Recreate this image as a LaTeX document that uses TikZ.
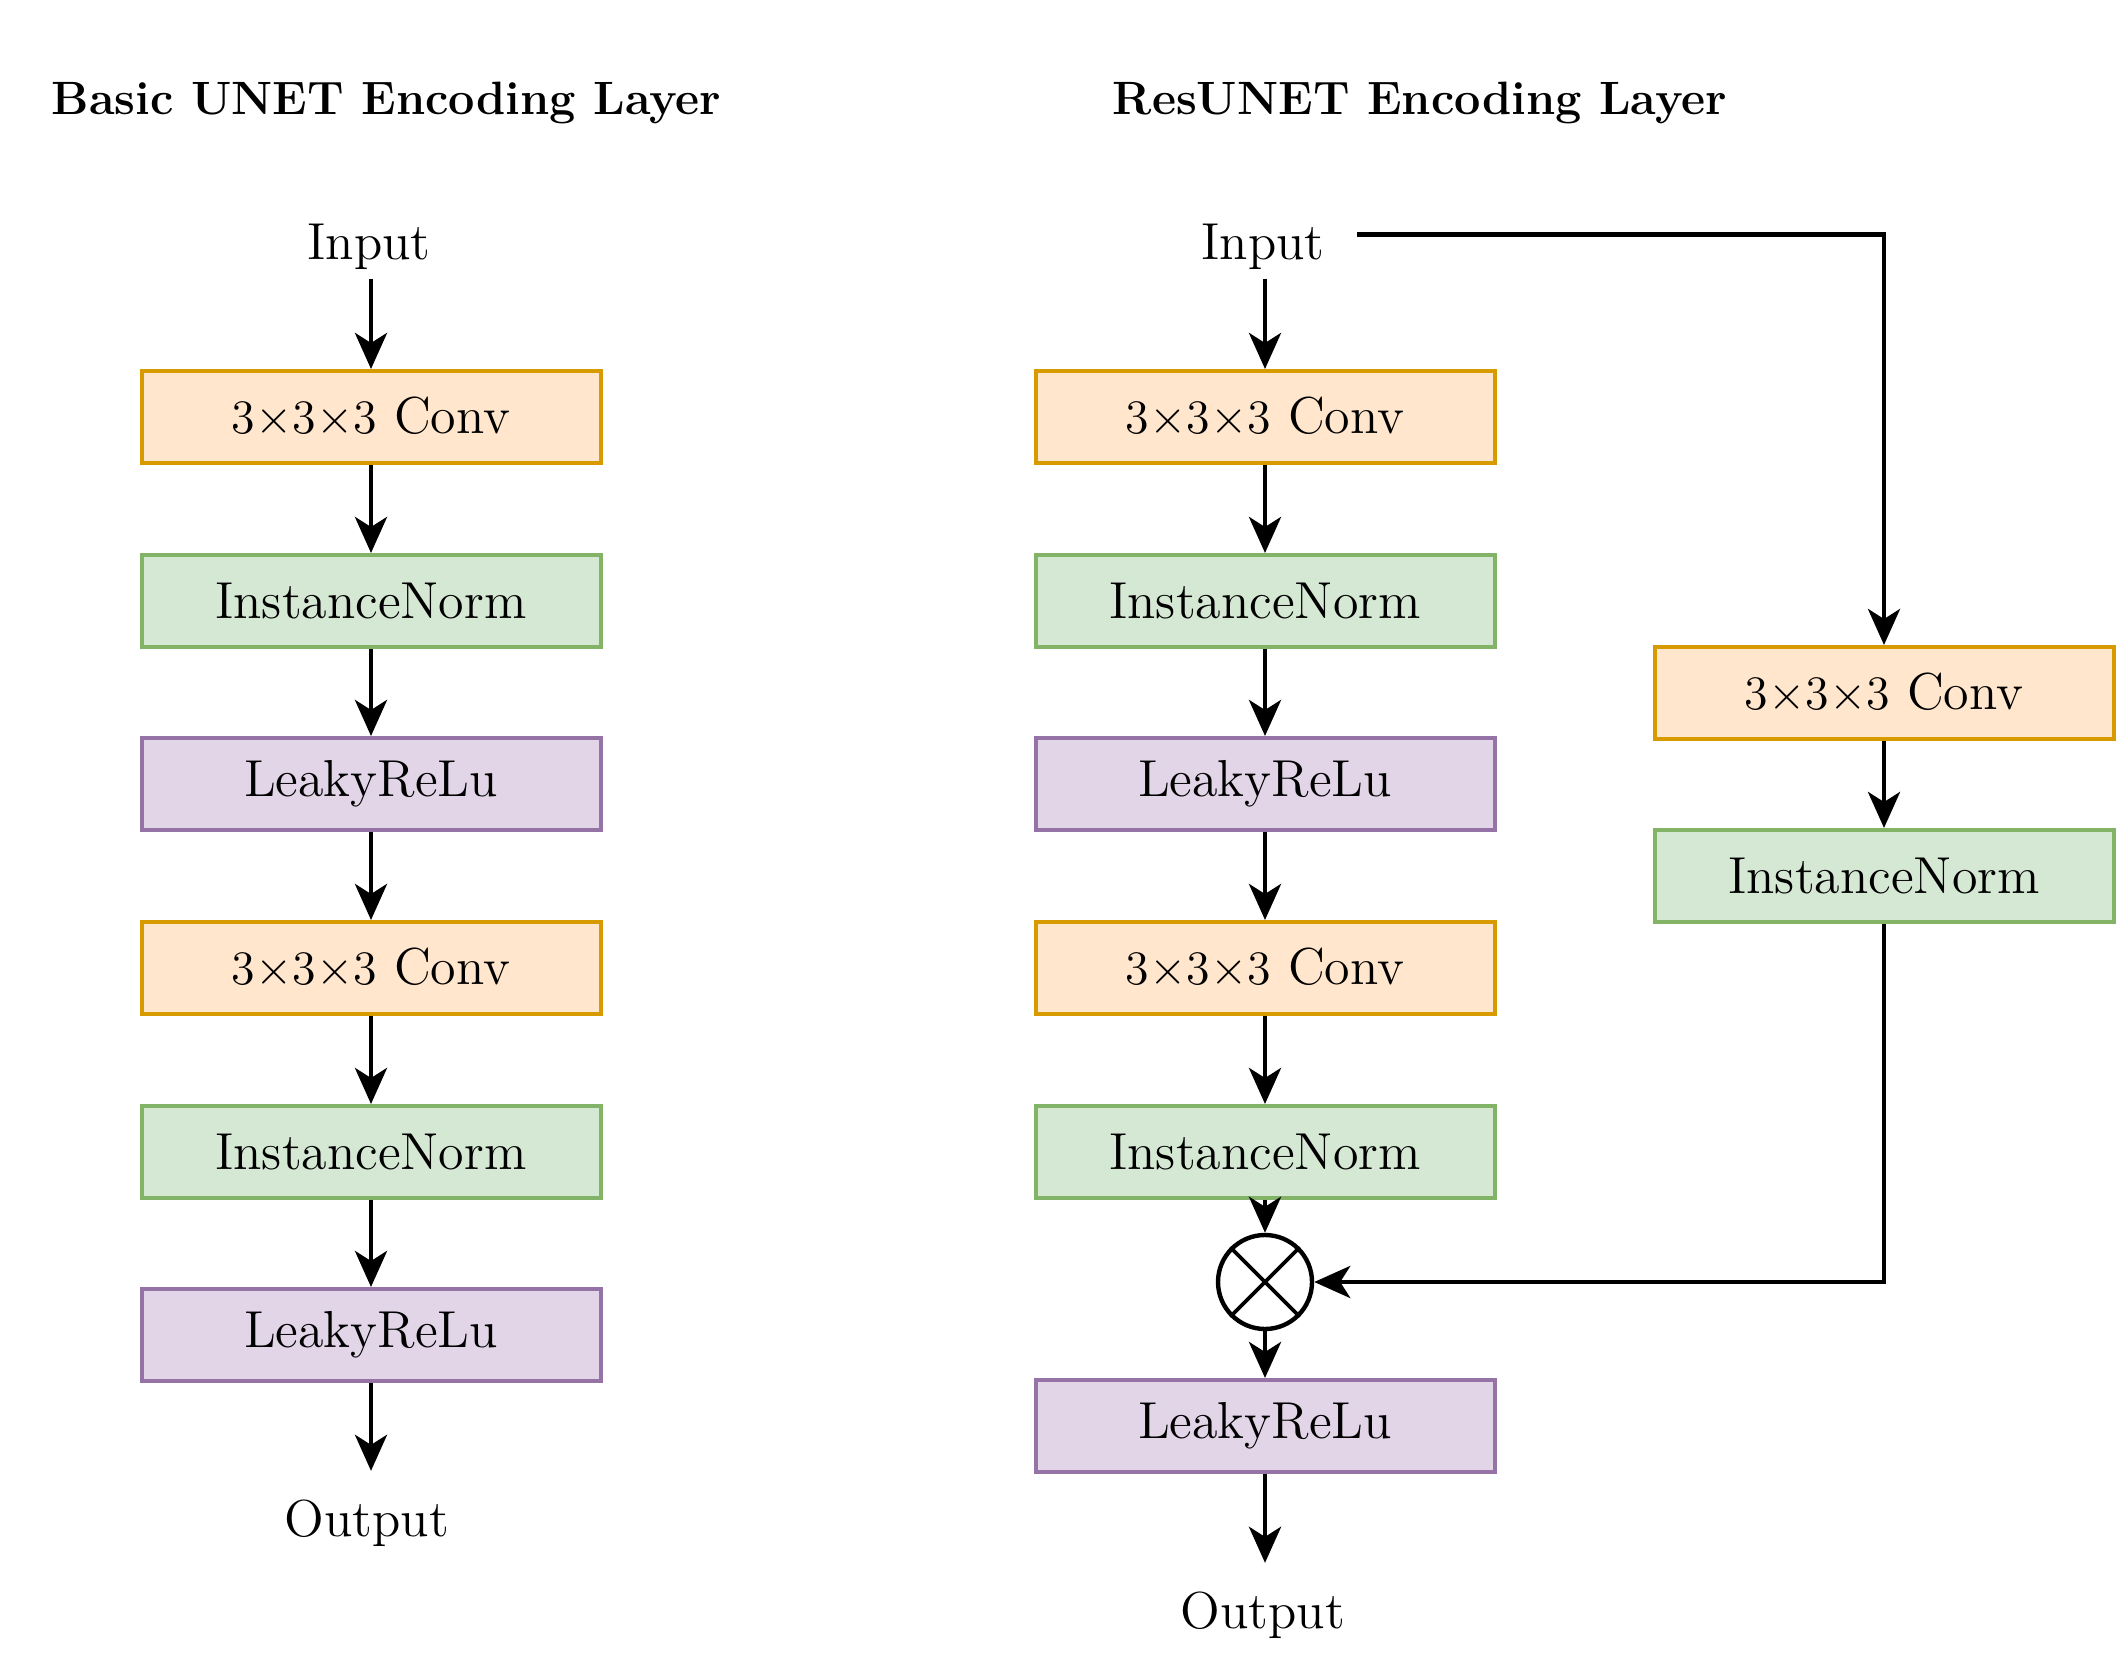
\documentclass[tikz,border=0pt]{standalone}
\usetikzlibrary{arrows.meta}
\definecolor{convF}{HTML}{FFE6CC}\definecolor{convD}{HTML}{D79B00}
\definecolor{normF}{HTML}{D5E8D4}\definecolor{normD}{HTML}{82B366}
\definecolor{reluF}{HTML}{E1D5E7}\definecolor{reluD}{HTML}{9673A6}
\begin{document}
\begin{tikzpicture}[x=0.25pt,y=-0.25pt,
  box/.style={draw, line width=1pt, minimum width=114.75pt, minimum height=23pt, inner sep=0pt, font=\fontsize{13}{15}\selectfont},
  conv/.style={box, fill=convF, draw=convD},
  norm/.style={box, fill=normF, draw=normD},
  relu/.style={box, fill=reluF, draw=reluD},
  lbl/.style={font=\fontsize{13}{15}\selectfont, inner sep=2pt},
  arr/.style={line width=1.2pt, -{Stealth[length=9pt,width=8pt,inset=2.5pt]}},
  ttl/.style={font=\fontsize{11.7}{14}\selectfont\bfseries, anchor=base west, inner sep=0pt}]
\useasboundingbox (0,0) rectangle (2117,1677);
% titles
\node[ttl] (t1) at (51,115) {Basic UNET Encoding Layer};
\node[ttl] (t2) at (1112,115) {ResUNET Encoding Layer};
% left column
\node[lbl] (lin) at (369,247) {Input};
\node[conv] (lc1) at (371,417) {$3{\times}3{\times}3$ Conv};
\node[norm] (ln1) at (371,601) {InstanceNorm};
\node[relu] (lr1) at (371,784) {LeakyReLu};
\node[conv] (lc2) at (371,968) {$3{\times}3{\times}3$ Conv};
\node[norm] (ln2) at (371,1152) {InstanceNorm};
\node[relu] (lr2) at (371,1335) {LeakyReLu};
\node[lbl] (lout) at (367,1523) {Output};
\draw[arr] (lin.south -| lc1.north) -- (lc1);
\draw[arr] (lc1) -- (ln1);
\draw[arr] (ln1) -- (lr1);
\draw[arr] (lr1) -- (lc2);
\draw[arr] (lc2) -- (ln2);
\draw[arr] (ln2) -- (lr2);
\draw[arr, shorten >=5pt] (lr2) -- (lout.north -| lr2.south);
% right column
\node[lbl] (rin) at (1263,247) {Input};
\node[conv] (rc1) at (1265,417) {$3{\times}3{\times}3$ Conv};
\node[norm] (rn1) at (1265,601) {InstanceNorm};
\node[relu] (rr1) at (1265,784) {LeakyReLu};
\node[conv] (rc2) at (1265,968) {$3{\times}3{\times}3$ Conv};
\node[norm] (rn2) at (1265,1152) {InstanceNorm};
\node[draw, circle, line width=1.1pt, minimum size=23.5pt, inner sep=0pt] (circ) at (1265,1282) {};
\draw[line width=0.9pt] (circ.north west) -- (circ.south east) (circ.north east) -- (circ.south west);
\node[relu] (rr2) at (1265,1426) {LeakyReLu};
\node[lbl] (rout) at (1263,1615) {Output};
% side branch
\node[conv] (sc) at (1884,693) {$3{\times}3{\times}3$ Conv};
\node[norm] (sn) at (1884,876) {InstanceNorm};
\draw[arr] (rin.south -| rc1.north) -- (rc1);
\draw[arr] (rc1) -- (rn1);
\draw[arr] (rn1) -- (rr1);
\draw[arr] (rr1) -- (rc2);
\draw[arr] (rc2) -- (rn2);
\draw[arr] (rn2) -- (circ);
\draw[arr] (circ) -- (rr2);
\draw[arr, shorten >=5pt] (rr2) -- (rout.north -| rr2.south);
\draw[arr, shorten <=6pt] ([yshift=3.2pt]rin.east) -| (sc.north);
\draw[arr] (sc) -- (sn);
\draw[arr] (sn.south) |- (circ.east);
\end{tikzpicture}
\end{document}
